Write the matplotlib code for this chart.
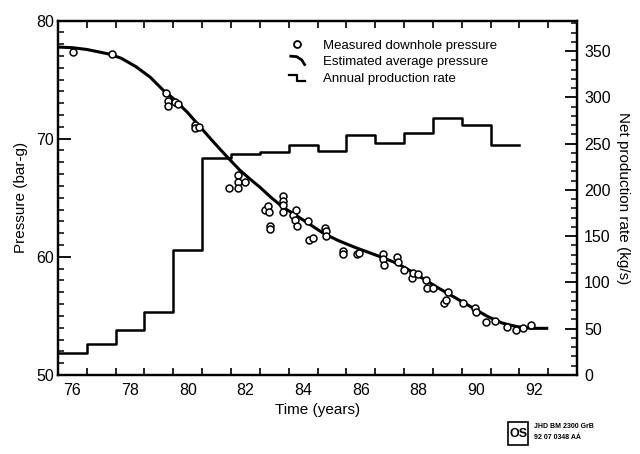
import matplotlib.pyplot as plt
from matplotlib.lines import Line2D
from matplotlib.legend_handler import HandlerBase
from matplotlib.patches import Rectangle

plt.rcParams['font.family'] = ['Liberation Sans', 'DejaVu Sans']

# annual net production rate (kg/s), one value per calendar year
prod_years = [76, 77, 78, 79, 80, 81, 82, 83, 84, 85, 86, 87, 88, 89, 90, 91]
prod_rate = [24, 33, 49, 68, 135, 235, 239, 241, 248, 242, 259, 251, 262, 278, 270, 248]

# estimated average pressure (bar-g)
est_time = [76.05, 76.5, 77.0, 77.5, 77.8, 78.2, 78.7, 79.2, 79.65, 80.0, 80.5,
            80.93, 81.4, 81.85, 82.3, 82.7, 83.0, 83.4, 83.8, 84.2, 84.7, 85.2,
            85.7, 86.3, 86.8, 87.3, 87.8, 88.3, 88.7, 89.2, 89.7, 90.3, 90.9,
            91.4, 91.9, 92.4, 92.95]
est_pres = [77.75, 77.7, 77.55, 77.3, 77.15, 76.8, 76.1, 75.2, 74.1, 73.4, 72.2,
            71.0, 69.7, 68.5, 67.35, 66.5, 65.9, 65.0, 64.2, 63.6, 62.8, 62.0,
            61.4, 60.8, 60.35, 59.9, 59.4, 58.7, 58.1, 57.35, 56.65, 55.8, 54.95,
            54.4, 54.1, 53.95, 53.95]

# measured downhole pressure (bar-g)
meas_time = [76.53, 77.86, 79.75, 79.8, 79.8, 80.06, 80.17, 80.75, 80.75, 80.9,
             81.94, 82.23, 82.23, 82.23, 82.49, 83.18, 83.3, 83.33, 83.35, 83.35,
             83.8, 83.8, 83.8, 83.82, 84.16, 84.26, 84.22, 84.28, 84.68, 84.72,
             84.86, 85.26, 85.3, 85.3, 85.87, 85.87, 86.36, 86.45, 87.28, 87.28,
             87.3, 87.77, 87.8, 88.0, 88.27, 88.32, 88.5, 88.76, 88.79, 89.02,
             89.39, 89.46, 89.51, 90.06, 90.46, 90.5, 90.85, 91.16, 91.56, 91.89,
             92.14, 92.4]
meas_pres = [77.3, 77.2, 73.9, 73.2, 72.8, 73.1, 72.9, 71.15, 70.9, 70.95,
             65.85, 66.9, 66.35, 65.85, 66.35, 64.0, 64.3, 63.8, 62.6, 62.35,
             65.15, 64.75, 64.4, 63.8, 63.55, 64.0, 63.1, 62.6, 63.0, 61.45,
             61.6, 62.4, 62.15, 61.75, 60.5, 60.2, 60.2, 60.35, 60.25, 59.8,
             59.3, 59.95, 59.6, 58.9, 58.2, 58.65, 58.55, 58.05, 57.35, 57.35,
             56.1, 56.35, 57.0, 56.1, 55.65, 55.35, 54.45, 54.6, 54.1, 53.8,
             53.95, 54.2]

year_labels = ['76', '78', '80', '82', '84', '86', '88', '90', '92']


class ShapeHandler(HandlerBase):
    """draws a small polyline given in unit coordinates as legend symbol"""
    def __init__(self, xs, ys, lw):
        super().__init__()
        self.xs, self.ys, self.lw = xs, ys, lw

    def create_artists(self, legend, orig_handle, xdescent, ydescent,
                       width, height, fontsize, trans):
        x = [-xdescent + v * width for v in self.xs]
        y = [-ydescent + v * height for v in self.ys]
        return [Line2D(x, y, color='black', lw=self.lw, transform=trans)]


fig = plt.figure(figsize=(6.4, 4.54), dpi=100)
ax = fig.add_axes([0.0906, 0.174, 0.8110, 0.7808])
ax2 = ax.twinx()

# production steps (right axis)
step_x = prod_years + [prod_years[-1] + 1]
step_y = prod_rate + [prod_rate[-1]]
ax2.step(step_x, step_y, where='post', color='black', lw=1.8)
ax2.set_ylim(0, 383)
ax2.set_yticks(range(0, 351, 50))
ax2.set_yticks(range(0, 381, 10), minor=True)
ax2.tick_params(axis='y', which='major', direction='in', length=9, width=1.3,
                labelsize=11.5, pad=5)
ax2.tick_params(axis='y', which='minor', direction='in', length=4, width=1.1)
ax2.set_ylabel('Net production rate (kg/s)', rotation=-90, fontsize=11, labelpad=14)

# pressure (left axis)
ax.plot(est_time, est_pres, color='black', lw=2.2, zorder=3)
ax.plot(meas_time, meas_pres, ls='none', marker='o', ms=5, mfc='white',
        mec='black', mew=1.1, zorder=4)
ax.set_xlim(76, 94)
ax.set_ylim(50, 80)
ax.set_yticks([50, 60, 70, 80])
ax.set_yticks(range(50, 81), minor=True)
ax.tick_params(axis='y', which='major', direction='in', length=9, width=1.3,
               labelsize=11.5, pad=3)
ax.tick_params(axis='y', which='minor', direction='in', length=4, width=1.1)
ax.set_ylabel('Pressure (bar-g)', fontsize=11, labelpad=6)

# year boundaries get ticks, labels sit in the middle of the year
ax.set_xticks(range(77, 94))
ax.set_xticklabels([])
ax.set_xticks([int(s) + 0.5 for s in year_labels], minor=True)
ax.set_xticklabels(year_labels, minor=True)
ax.tick_params(axis='x', which='major', direction='in', length=5, width=1.2,
               top=True)
ax.tick_params(axis='x', which='minor', length=0, labelsize=11.5, pad=6)
ax.set_xlabel('Time (years)', fontsize=11, labelpad=3)

for a in (ax, ax2):
    for sp in a.spines.values():
        sp.set_linewidth(1.6)

h_meas = Line2D([], [], ls='none', marker='o', ms=5, mfc='white', mec='black', mew=1.3)
h_est = Line2D([], [])
h_prod = Line2D([], [])
leg = ax.legend([h_meas, h_est, h_prod],
                ['Measured downhole pressure', 'Estimated average pressure',
                 'Annual production rate'],
                handler_map={h_est: ShapeHandler([0.05, 0.45, 0.8, 1.0], [1.0, 0.95, 0.6, 0.1], 2.0),
                             h_prod: ShapeHandler([-0.1, 0.45, 0.45, 1.0], [0.75, 0.75, 0.15, 0.15], 1.6)},
                loc='upper left', bbox_to_anchor=(0.445, 0.925), bbox_transform=fig.transFigure,
                frameon=False, fontsize=9.5, handlelength=1.1, handletextpad=1.4,
                labelspacing=0.35, borderaxespad=0)

# drawing register stamp, bottom right
fig.patches.append(Rectangle((0.794, 0.020), 0.031, 0.051, transform=fig.transFigure,
                             fill=False, lw=1.2, color='black'))
fig.text(0.8095, 0.045, 'OS', ha='center', va='center', fontsize=9, fontweight='bold')
fig.text(0.834, 0.060, 'JHD BM 2300 GrB', fontsize=5, fontweight='bold', va='center')
fig.text(0.834, 0.036, '92 07 0348 AÁ', fontsize=5, fontweight='bold', va='center')

fig.savefig('out.png', dpi=100)
